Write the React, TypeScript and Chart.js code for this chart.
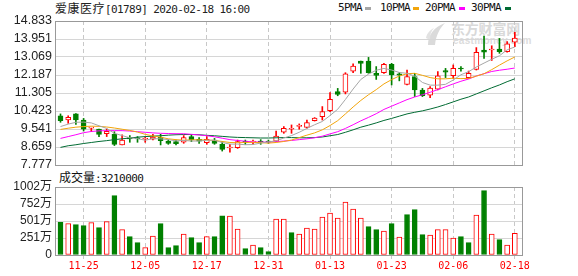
import React, { useEffect, useRef } from "react";
import { Chart, registerables } from "chart.js";

Chart.register(...registerables);

// ---------- data ----------
const dates = [
  "11-20", "11-21", "11-22", "11-25", "11-26", "11-27", "11-28", "11-29", "12-02", "12-03",
  "12-04", "12-05", "12-06", "12-09", "12-10", "12-11", "12-12", "12-13", "12-16", "12-17",
  "12-18", "12-19", "12-20", "12-23", "12-24", "12-27", "12-30", "12-31", "01-02", "01-03",
  "01-06", "01-07", "01-08", "01-09", "01-10", "01-13", "01-14", "01-15", "01-16", "01-17",
  "01-20", "01-21", "01-22", "01-23", "01-24", "01-29", "01-30", "01-31", "02-03", "02-04",
  "02-05", "02-06", "02-07", "02-10", "02-11", "02-12", "02-13", "02-14", "02-17", "02-18",
];

const opens = [
  10.19, 9.98, 10.28, 9.98, 9.58, 9.54, 9.31, 9.28, 8.76, 9.12,
  9.09, 9.04, 9.04, 9.13, 8.95, 8.93, 8.89, 9.17, 9.04, 8.87,
  9.0, 8.79, 8.61, 8.63, 8.95, 8.9, 8.95, 8.92, 8.95, 9.38,
  9.53, 9.67, 9.62, 9.95, 10.15, 10.44, 11.37, 11.35, 12.38, 12.87,
  12.87, 12.27, 12.3, 12.71, 12.24, 11.73, 12.11, 11.45, 11.2, 11.49,
  12.4, 12.15, 12.51, 12.06, 12.46, 13.41, 13.41, 13.46, 13.33, 13.79,
];
const highs = [
  10.28, 10.19, 10.3, 10.06, 9.63, 9.54, 9.54, 9.41, 9.25, 9.22,
  9.17, 9.15, 9.28, 9.28, 9.02, 9.0, 9.22, 9.25, 9.12, 9.17,
  9.08, 8.92, 8.79, 9.0, 9.0, 9.0, 9.02, 9.0, 9.44, 9.66,
  9.74, 9.79, 9.98, 10.1, 10.64, 11.32, 11.53, 12.3, 12.73, 12.87,
  13.05, 12.6, 12.76, 12.76, 12.3, 12.43, 12.27, 11.53, 11.62, 12.35,
  12.51, 12.68, 12.6, 12.38, 13.53, 14.1, 13.62, 13.98, 13.82, 14.28,
];
const lows = [
  9.87, 9.82, 9.77, 9.44, 9.41, 9.17, 9.17, 8.73, 8.76, 8.89,
  8.89, 8.89, 9.0, 8.76, 8.79, 8.76, 8.84, 8.92, 8.84, 8.79,
  8.79, 8.46, 8.4, 8.59, 8.79, 8.79, 8.79, 8.84, 8.92, 9.33,
  9.33, 9.53, 9.58, 9.93, 9.98, 10.39, 11.17, 11.26, 12.3, 12.27,
  12.27, 11.97, 12.27, 11.7, 11.9, 11.7, 11.13, 11.13, 11.08, 11.45,
  12.06, 12.02, 12.38, 12.02, 12.43, 13.0, 12.9, 13.25, 13.3, 13.58,
];
const closes = [
  9.95, 10.11, 9.98, 9.53, 9.62, 9.28, 9.43, 8.79, 9.0, 9.05,
  9.06, 9.08, 9.15, 8.97, 8.84, 8.82, 9.12, 9.02, 8.95, 9.04,
  8.84, 8.54, 8.64, 8.92, 8.89, 8.92, 8.9, 8.9, 9.2, 9.57,
  9.56, 9.69, 9.85, 10.07, 10.39, 11.0, 11.24, 12.24, 12.63, 12.76,
  12.3, 12.17, 12.71, 12.19, 12.18, 12.11, 11.45, 11.17, 11.55, 12.15,
  12.32, 12.51, 12.48, 12.27, 13.3, 13.3, 13.46, 13.33, 13.71, 14.0,
];

const ma5 = [
  9.66, 9.78, 9.87, 9.88, 9.84, 9.7, 9.57, 9.33, 9.22, 9.11,
  9.07, 8.99, 9.07, 9.06, 9.02, 8.96, 8.98, 8.95, 8.95, 8.99,
  8.99, 8.88, 8.8, 8.8, 8.77, 8.78, 8.85, 8.91, 8.96, 9.1,
  9.22, 9.38, 9.57, 9.75, 9.91, 10.2, 10.51, 10.99, 11.5, 11.97,
  12.23, 12.42, 12.51, 12.43, 12.31, 12.27, 12.13, 11.82, 11.69, 11.69,
  11.73, 11.94, 12.2, 12.35, 12.58, 12.77, 12.96, 13.13, 13.42, 13.56,
];
const ma10 = [
  9.52, 9.58, 9.63, 9.66, 9.68, 9.67, 9.64, 9.59, 9.53, 9.47,
  9.39, 9.28, 9.2, 9.14, 9.06, 9.02, 8.99, 9.01, 9.01, 9.0,
  8.98, 8.93, 8.88, 8.87, 8.88, 8.89, 8.87, 8.85, 8.88, 8.93,
  9.0, 9.12, 9.24, 9.35, 9.5, 9.71, 9.95, 10.28, 10.62, 10.94,
  11.22, 11.47, 11.75, 11.96, 12.14, 12.25, 12.27, 12.17, 12.06, 12.0,
  12.0, 12.03, 12.01, 12.02, 12.13, 12.25, 12.45, 12.67, 12.88, 13.07,
];
const ma20 = [
  9.08, 9.17, 9.26, 9.36, 9.42, 9.45, 9.46, 9.46, 9.46, 9.44,
  9.41, 9.38, 9.35, 9.33, 9.32, 9.31, 9.31, 9.28, 9.25, 9.21,
  9.16, 9.09, 9.02, 8.98, 8.94, 8.91, 8.9, 8.9, 8.92, 8.95,
  8.98, 9.02, 9.06, 9.11, 9.19, 9.3, 9.41, 9.57, 9.75, 9.94,
  10.11, 10.29, 10.5, 10.66, 10.82, 10.98, 11.11, 11.22, 11.34, 11.47,
  11.61, 11.75, 11.88, 11.99, 12.14, 12.25, 12.36, 12.42, 12.47, 12.53,
];
const ma30 = [
  8.64, 8.72, 8.77, 8.83, 8.88, 8.93, 8.97, 9.02, 9.06, 9.1,
  9.14, 9.17, 9.19, 9.21, 9.24, 9.26, 9.27, 9.27, 9.26, 9.23,
  9.21, 9.18, 9.15, 9.13, 9.12, 9.11, 9.1, 9.1, 9.11, 9.12,
  9.12, 9.11, 9.11, 9.12, 9.15, 9.21, 9.27, 9.38, 9.5, 9.63,
  9.73, 9.84, 9.96, 10.06, 10.17, 10.28, 10.36, 10.43, 10.52, 10.62,
  10.74, 10.87, 11.0, 11.11, 11.26, 11.41, 11.56, 11.7, 11.86, 12.0,
];

// volume in 万 shares
const volumes = [
  481, 462, 447, 432, 476, 403, 491, 874, 373, 270,
  182, 108, 280, 462, 108, 137, 309, 255, 182, 270,
  270, 579, 574, 383, 93, 147, 108, 49, 530, 530,
  329, 309, 398, 383, 560, 619, 545, 781, 678, 545,
  417, 373, 354, 462, 265, 594, 668, 300, 295, 373,
  373, 250, 270, 182, 589, 948, 309, 226, 147, 321,
];
const volColors = [
  "G", "R", "G", "G", "R", "G", "R", "G", "R", "G",
  "G", "R", "R", "G", "G", "G", "R", "G", "G", "R",
  "G", "G", "R", "R", "G", "R", "G", "G", "R", "R",
  "G", "R", "R", "R", "R", "R", "R", "R", "R", "R",
  "G", "G", "R", "G", "R", "G", "G", "G", "R", "R",
  "R", "R", "G", "G", "R", "G", "R", "G", "R", "R",
];

const priceTicks = [7.777, 8.659, 9.541, 10.423, 11.305, 12.187, 13.069, 13.951, 14.833];
const volTicks = [0, 250.5, 501, 751.5, 1002];
const dateTickIdx = [3, 11, 19, 27, 35, 43, 51, 59];
const lastVolume = "3210000";

const maSeries = [
  { name: "5PMA", data: ma5, color: "#a6a6a6" },
  { name: "10PMA", data: ma10, color: "#f2a50c" },
  { name: "20PMA", data: ma20, color: "#ff00ff" },
  { name: "30PMA", data: ma30, color: "#006b33" },
];

// ---------- styling ----------
const W = 578;
const X_MIN = -0.714;
const X_MAX = 59.93;
const RED = "#ff0000";
const GREEN = "#008000";
const MONO = '"DejaVu Sans Mono", "Liberation Mono", monospace';
const SANS = '"Liberation Sans", Arial, "Noto Sans CJK SC", sans-serif';
const CJK = '"Noto Sans CJK SC", "Noto Sans", sans-serif';

const frame = {
  id: "frame",
  afterDraw(chart: any) {
    const { ctx, chartArea: a } = chart;
    ctx.save();
    ctx.strokeStyle = "#999999";
    ctx.lineWidth = 1;
    ctx.strokeRect(
      Math.round(a.left) + 0.5,
      Math.round(a.top) + 0.5,
      Math.round(a.right - a.left),
      Math.round(a.bottom - a.top)
    );
    ctx.restore();
  },
};

function xAxis(labels: boolean): any {
  return {
    type: "linear",
    min: X_MIN,
    max: X_MAX,
    offset: false,
    bounds: "data",
    afterBuildTicks: (s: any) => {
      s.ticks = dateTickIdx.map((v) => ({ value: v }));
    },
    afterFit: (s: any) => {
      s.height = labels ? 21 : 0;
    },
    ticks: {
      display: labels,
      autoSkip: false,
      maxRotation: 0,
      minRotation: 0,
      padding: 1,
      color: RED,
      font: { family: MONO, size: 10 },
      callback: (v: any) => dates[v] ?? "",
    },
    grid: {
      offset: false,
      color: "#c8c8c8",
      lineWidth: 1,
      drawTicks: labels,
      tickLength: 4,
      tickColor: "#c8c8c8",
    },
    border: { display: false, dash: [4, 3] },
  };
}

function yAxis(min: number, max: number, ticksList: number[], fontSize: number, fmt: (v: number) => string): any {
  return {
    type: "linear",
    min,
    max,
    afterBuildTicks: (s: any) => {
      s.ticks = ticksList.map((v) => ({ value: v }));
    },
    afterFit: (s: any) => {
      s.width = 55;
    },
    ticks: {
      autoSkip: false,
      padding: 3,
      color: "#222222",
      font: { family: SANS, size: fontSize },
      callback: (v: any) => fmt(Number(v)),
    },
    grid: { color: "#d6d6d6", lineWidth: 1, drawTicks: false },
    border: { display: false },
  };
}

export default function App() {
  const priceRef = useRef<HTMLCanvasElement | null>(null);
  const volRef = useRef<HTMLCanvasElement | null>(null);

  useEffect(() => {
    const up = closes.map((c, i) => c >= opens[i]);

    const priceChart = new Chart(priceRef.current as HTMLCanvasElement, {
      type: "bar",
      data: {
        datasets: [
          ...maSeries.map((m) => ({
            type: "line" as const,
            label: m.name,
            data: m.data.map((v, i) => ({ x: i, y: v })),
            borderColor: m.color,
            borderWidth: 1,
            pointRadius: 0,
            tension: 0,
            order: 0,
          })),
          {
            type: "bar" as const,
            label: "body",
            data: opens.map((o, i) => ({ x: i, y: [o, closes[i]] })),
            backgroundColor: up.map((u) => (u ? "#ffffff" : GREEN)),
            borderColor: up.map((u) => (u ? RED : GREEN)),
            borderWidth: 1,
            borderSkipped: false,
            barThickness: 5,
            grouped: false,
            minBarLength: 1,
            order: 1,
          },
          {
            type: "bar" as const,
            label: "wick",
            data: lows.map((l, i) => ({ x: i, y: [l, highs[i]] })),
            backgroundColor: up.map((u) => (u ? RED : GREEN)),
            borderWidth: 0,
            barThickness: 1,
            grouped: false,
            order: 2,
          },
        ] as any,
      },
      options: {
        responsive: false,
        animation: false,
        devicePixelRatio: 1,
        layout: { padding: { top: 21, right: 56, bottom: 11, left: 0 } },
        plugins: { legend: { display: false }, tooltip: { enabled: false } },
        scales: {
          x: xAxis(false),
          y: yAxis(7.777, 14.833, priceTicks, 12.5, (v) => v.toFixed(3)),
        } as any,
      },
      plugins: [frame],
    });

    const volChart = new Chart(volRef.current as HTMLCanvasElement, {
      type: "bar",
      data: {
        datasets: [
          {
            label: "volume",
            data: volumes.map((v, i) => ({ x: i, y: v })),
            backgroundColor: volColors.map((c) => (c === "R" ? "#ffffff" : GREEN)),
            borderColor: volColors.map((c) => (c === "R" ? RED : GREEN)),
            borderWidth: 1,
            borderSkipped: false,
            barThickness: 5,
            grouped: false,
          },
        ] as any,
      },
      options: {
        responsive: false,
        animation: false,
        devicePixelRatio: 1,
        layout: { padding: { top: 11, right: 56, bottom: 0, left: 0 } },
        plugins: { legend: { display: false }, tooltip: { enabled: false } },
        scales: {
          x: xAxis(true),
          y: yAxis(0, 1002, volTicks, 12, (v) => (v === 0 ? "0" : Math.round(v) + "万")),
        } as any,
      },
      plugins: [frame],
    });

    return () => {
      priceChart.destroy();
      volChart.destroy();
    };
  }, []);

  const abs = (s: React.CSSProperties): React.CSSProperties => ({ position: "absolute", whiteSpace: "nowrap", ...s });
  const mono: React.CSSProperties = { fontFamily: MONO, fontSize: 11, letterSpacing: "-0.6px" };
  const legendPos = [338, 380, 425, 471];
  const squarePos = [365, 413, 459, 505];

  return (
    <div style={{ position: "absolute", left: 0, top: 0, width: W, height: 276, background: "#ffffff", overflow: "hidden" }}>
      {/* watermark */}
      <svg style={abs({ left: 425, top: 22 })} width={22} height={24} viewBox="0 0 22 24">
        <path d="M3 23 C 3 13, 9 5, 20 1 C 15 6, 11 13, 10 23 Z" fill="#dadada" />
        <path d="M1 16 C 2 11, 5 8, 9 6 C 6 9, 5 13, 5 18 Z" fill="#e2e2e2" />
      </svg>
      <div style={abs({ left: 451, top: 20, fontFamily: CJK, fontWeight: 700, fontSize: 14, letterSpacing: "-0.2px", color: "#d9d9d9", lineHeight: "17px" })}>
        东方财富网
      </div>
      <div style={abs({ left: 453, top: 35, fontFamily: SANS, fontWeight: 700, fontSize: 10, color: "#dcdcdc", lineHeight: "11px", letterSpacing: "0.3px" })}>
        eastmoney.com
      </div>

      {/* title */}
      <div style={abs({ left: 55, top: 1, lineHeight: "14px", color: "#222222" })}>
        <span style={{ fontFamily: CJK, fontSize: 12, letterSpacing: "0.5px" }}>爱康医疗</span>
        <span style={mono}>[01789] 2020-02-18 16:00</span>
      </div>

      {/* MA legend */}
      {maSeries.map((m, k) => (
        <React.Fragment key={m.name}>
          <div style={abs({ left: legendPos[k], top: 1, lineHeight: "14px", color: "#111111", ...mono })}>{m.name}</div>
          <div style={abs({ left: squarePos[k], top: 7, width: 6, height: 3, background: m.color })} />
        </React.Fragment>
      ))}

      {/* volume caption */}
      <div style={abs({ left: 59, top: 170, lineHeight: "14px", color: "#111111" })}>
        <span style={{ fontFamily: CJK, fontSize: 12 }}>成交量</span>
        <span style={mono}>:{lastVolume}</span>
      </div>

      <canvas ref={priceRef} width={W} height={176} style={abs({ left: 0, top: 0, width: W, height: 176 })} />
      <canvas ref={volRef} width={W} height={100} style={abs({ left: 0, top: 176, width: W, height: 100 })} />
    </div>
  );
}
